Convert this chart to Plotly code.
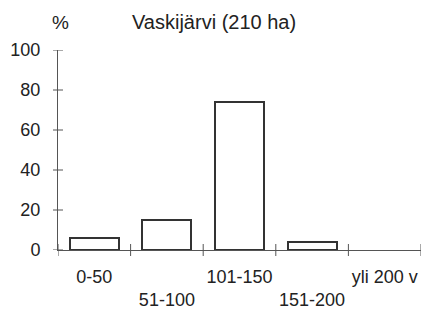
import plotly.graph_objects as go

categories = ["0-50", "51-100", "101-150", "151-200", "yli 200 v"]
values = [6, 15, 74, 4, 0]
y_ticks = [0, 20, 40, 60, 80, 100]
title_text = "Vaskijärvi (210 ha)"
unit_text = "%"

# staggered labels: every second one on the lower line
tick_text = [c if i % 2 == 0 else "<br>" + c for i, c in enumerate(categories)]
# no outline for empty bars (nothing is drawn at zero in the original)
outline_widths = [2 if v > 0 else 0 for v in values]
# category boundaries, where the x tick marks sit
boundaries = [i - 0.5 for i in range(len(categories) + 1)]

FONT = "Liberation Sans, Arial, sans-serif"
AX = "#555555"

# the page body has an 8px margin, so the figure is offset by 8px
OFF = 8
L, T = 58 - OFF, 50 - OFF
PW, PH = 363, 200

fig = go.Figure()
fig.add_trace(go.Bar(
    x=categories, y=values, width=0.675,
    marker=dict(color="white", line=dict(color="#333333", width=outline_widths)),
    hoverinfo="skip", showlegend=False,
))

# tick marks crossing the axis lines (both sides), as in the original
shapes = []
for yt in y_ticks:
    shapes.append(dict(type="line", xref="paper", xsizemode="pixel", xanchor=0,
                       x0=-5, x1=5, yref="y", y0=yt, y1=yt,
                       line=dict(color=AX, width=1), layer="above"))
for xb in boundaries:
    shapes.append(dict(type="line", yref="paper", ysizemode="pixel", yanchor=0,
                       y0=-6, y1=6, xref="x", x0=xb, x1=xb,
                       line=dict(color=AX, width=1), layer="above"))

fig.update_layout(
    width=430, height=315,
    margin=dict(l=L, r=430 - L - PW, t=T, b=315 - T - PH),
    paper_bgcolor="white", plot_bgcolor="white",
    font=dict(family=FONT, size=18, color="#222222"),
    bargap=0,
    xaxis=dict(type="category", range=[-0.5, len(categories) - 0.5],
               showgrid=False, zeroline=False, showline=True, linecolor=AX,
               linewidth=1, ticks="", tickmode="array", tickvals=categories,
               ticktext=tick_text, tickangle=0, ticklabelstandoff=10,
               automargin=False, fixedrange=True),
    yaxis=dict(range=[0, 100], tickmode="array", tickvals=y_ticks,
               showgrid=False, zeroline=False, showline=True, linecolor=AX,
               linewidth=1, ticks="", ticklabelstandoff=13,
               automargin=False, fixedrange=True),
    shapes=shapes,
    annotations=[
        dict(text=title_text, xref="paper", yref="paper",
             x=(214 - 58) / PW, y=(250 - 22) / PH, xanchor="center",
             yanchor="middle", showarrow=False,
             font=dict(family=FONT, size=20, color="#222222")),
        dict(text=unit_text, xref="paper", yref="paper",
             x=(60 - 58) / PW, y=(250 - 22) / PH, xanchor="center",
             yanchor="middle", showarrow=False,
             font=dict(family=FONT, size=19, color="#222222")),
    ],
)

fig.write_html("out.html")
